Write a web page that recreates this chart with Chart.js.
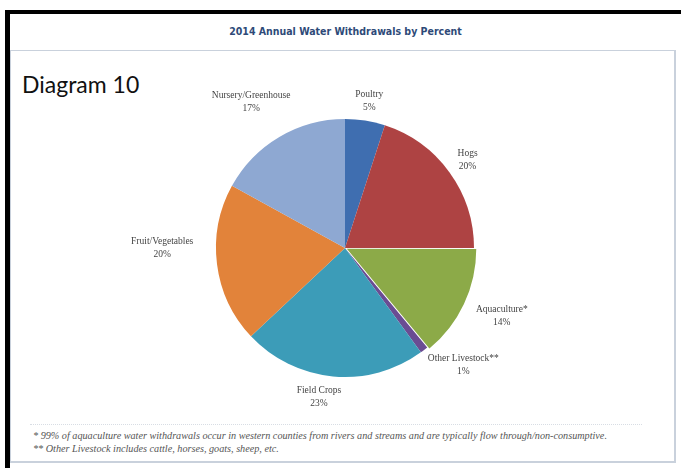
<!DOCTYPE html>
<html>
<head>
<meta charset="utf-8">
<script src="https://cdn.jsdelivr.net/npm/chart.js@4.4.1/dist/chart.umd.min.js"></script>
<style>
  html, body { margin: 0; padding: 0; background: #ffffff; }
  #wrap { position: relative; width: 681px; height: 468px; overflow: hidden; background: #fff; }
  #blackTop { position: absolute; left: 5px; top: 10px; width: 676px; height: 4px; background: #000; }
  #blackLeft { position: absolute; left: 5px; top: 10px; width: 5px; height: 458px; background: #000; }
  #box { position: absolute; left: 10px; top: 50px; width: 666px; height: 413px; border: 1px solid #c9d1dc; border-right: 2px solid #c9d1dc; border-bottom: 2px solid #c9d1dc; box-sizing: border-box; }
  #title { position: absolute; left: 0; top: 25px; width: 691px; text-align: center; font-family: "DejaVu Sans Condensed", "Liberation Sans Narrow", "DejaVu Sans", sans-serif; font-weight: bold; font-size: 10.5px; color: #2e4a78; }
  #diag { position: absolute; left: 22px; top: 70px; font-family: Lato, "Open Sans", sans-serif; font-size: 23px; color: #111; }
  #sep { position: absolute; left: 30px; top: 424px; width: 612px; height: 0; border-top: 1px dotted #d8dde4; }
  #notes { position: absolute; left: 33px; top: 429px; font-family: "Liberation Serif", serif; font-style: italic; font-size: 10.2px; color: #555; line-height: 13px; }
  canvas { position: absolute; left: 0; top: 0; }
</style>
</head>
<body>
<div id="wrap">
  <div id="blackTop"></div>
  <div id="blackLeft"></div>
  <div id="box"></div>
  <div id="title">2014 Annual Water Withdrawals by Percent</div>
  <div id="diag">Diagram 10</div>
  <div id="sep"></div>
  <div id="notes">* 99% of aquaculture water withdrawals occur in western counties from rivers and streams and are typically flow through/non-consumptive.<br>** Other Livestock includes cattle, horses, goats, sheep, etc.</div>
  <canvas id="c" width="681" height="468"></canvas>
</div>
<script>
const categories = ["Poultry", "Hogs", "Aquaculture*", "Other Livestock**", "Field Crops", "Fruit/Vegetables", "Nursery/Greenhouse"];
const percents = [5, 20, 14, 1, 23, 20, 17];
const sliceColors = ["#3F6EB0", "#AE4343", "#8CAA48", "#6A4C93", "#3C9CB8", "#E2833A", "#8EA8D2"];
const sliceOffsets = [0, 0, 8, 0, 0, 0, 0];
// label nudges (style only): shift of each label block from its default outside anchor
const labelNudges = [[1, 0], [2, 0], [22, 5], [27, -1], [-12, 1], [-35, -19], [-18, -18]];

const pieLabels = {
  id: 'pieLabels',
  afterDatasetsDraw(chart) {
    const ctx = chart.ctx;
    const meta = chart.getDatasetMeta(0);
    ctx.save();
    ctx.font = '9.5px "Liberation Serif", serif';
    ctx.fillStyle = '#444';
    ctx.textAlign = 'center';
    ctx.textBaseline = 'middle';
    meta.data.forEach((arc, i) => {
      const p = arc.getProps(['x', 'y', 'startAngle', 'endAngle', 'outerRadius'], true);
      const mid = (p.startAngle + p.endAngle) / 2;
      const d = p.outerRadius + 20;
      const ax = p.x + Math.cos(mid) * d + labelNudges[i][0];
      const ay = p.y + Math.sin(mid) * d + labelNudges[i][1];
      ctx.fillText(categories[i], ax, ay - 6.5);
      ctx.fillText(percents[i] + '%', ax, ay + 6.5);
    });
    ctx.restore();
  }
};

new Chart(document.getElementById('c'), {
  type: 'pie',
  data: {
    labels: categories,
    datasets: [{
      data: percents,
      backgroundColor: sliceColors,
      borderWidth: 0,
      offset: sliceOffsets
    }]
  },
  options: {
    responsive: false,
    animation: false,
    radius: 129,
    layout: { padding: { left: 9, top: 28, right: 0, bottom: 0 } },
    plugins: {
      legend: { display: false },
      tooltip: { enabled: false },
      title: { display: false }
    }
  },
  plugins: [pieLabels]
});
</script>
</body>
</html>
